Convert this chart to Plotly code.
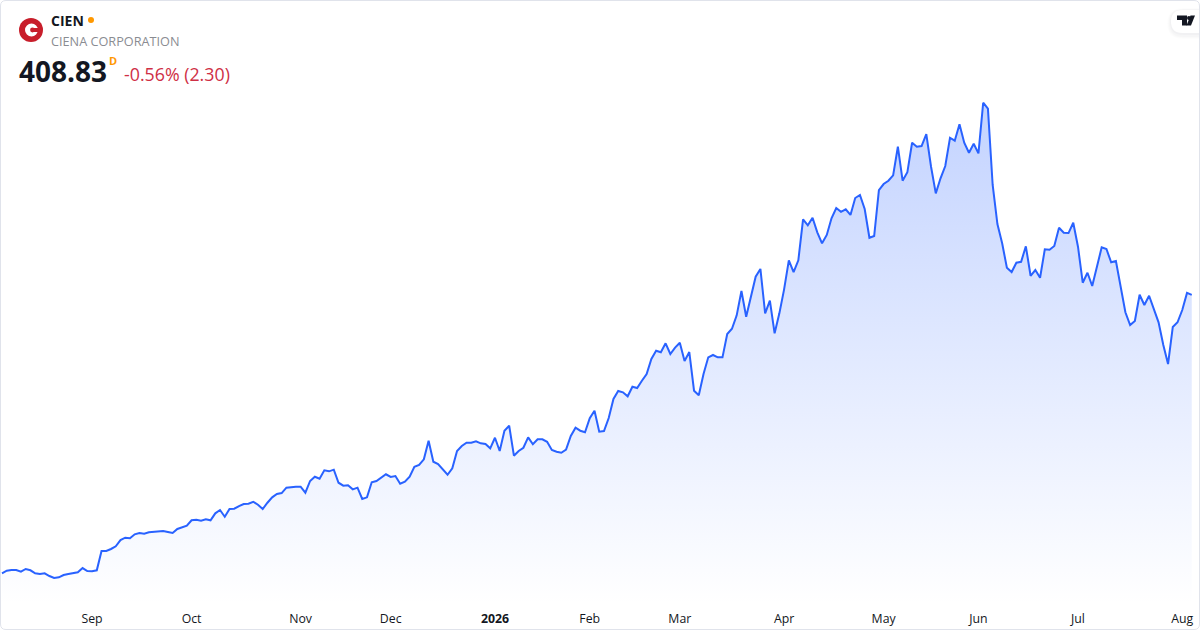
# plot.py
import pandas as pd
import plotly.graph_objects as go

# --- Data ---
FIRST_DAY = "2025-08-05"
LAST_DAY = "2026-08-05"
holidays = ["2025-09-01", "2025-11-27", "2025-12-25", "2026-01-01", "2026-01-19",
            "2026-02-16", "2026-04-03", "2026-05-25", "2026-06-19", "2026-07-03"]

close = [
    88.6, 91.6, 92.4, 92.4, 90.5, 93.6, 92.1, 88.6, 87.8, 88.6,
    85.5, 83.2, 84.0, 86.7, 87.8, 88.6, 89.8, 94.7, 91.3, 90.9,
    92.1, 114.3, 114.3, 116.6, 119.7, 126.9, 129.6, 128.9, 133.5, 135.0,
    134.2, 135.8, 136.1, 136.9, 137.3, 136.1, 135.0, 139.6, 141.9, 143.4,
    149.6, 150.3, 149.1, 150.8, 149.6, 157.6, 161.4, 153.7, 162.6, 162.9,
    166.0, 168.3, 168.7, 170.9, 167.5, 162.6, 169.8, 176.0, 179.8, 180.9,
    187.1, 187.9, 188.2, 188.2, 181.3, 194.8, 199.7, 197.4, 207.1, 205.9,
    207.8, 192.8, 189.4, 189.8, 185.2, 187.1, 174.1, 176.0, 193.3, 194.8,
    198.2, 202.5, 199.4, 200.5, 191.6, 193.9, 199.7, 211.2, 213.2, 219.7,
    241.1, 216.9, 214.3, 208.2, 202.0, 209.4, 229.3, 235.0, 238.8, 238.8,
    240.4, 238.1, 237.3, 232.4, 244.5, 229.3, 252.6, 258.3, 223.9, 229.3,
    233.0, 245.0, 237.0, 242.7, 242.7, 239.9, 230.4, 228.4, 227.3, 230.8,
    246.5, 256.0, 252.6, 250.8, 266.9, 275.6, 251.5, 252.3, 267.2, 289.1,
    298.3, 296.8, 292.2, 303.2, 301.7, 310.1, 317.8, 335.1, 344.6, 342.8,
    353.1, 340.8, 348.1, 353.8, 332.8, 343.1, 298.6, 293.3, 317.8, 337.0,
    339.7, 337.0, 337.0, 363.8, 369.9, 385.3, 413.3, 383.7, 408.7, 429.7,
    438.6, 387.6, 402.1, 364.6, 387.6, 415.2, 448.6, 435.1, 448.6, 495.7,
    488.8, 497.5, 480.8, 468.1, 477.7, 496.9, 508.7, 504.4, 507.2, 500.7,
    520.2, 523.7, 507.6, 474.5, 476.5, 529.4, 536.3, 540.1, 546.3, 579.2,
    540.1, 549.8, 583.8, 579.2, 580.0, 593.8, 556.2, 525.6, 542.9, 557.0,
    589.5, 586.1, 605.0, 583.8, 572.3, 582.6, 571.6, 629.8, 622.9, 535.2,
    490.3, 468.1, 440.0, 435.1, 445.8, 446.9, 464.7, 430.8, 437.4, 428.5,
    461.2, 460.7, 465.0, 486.0, 480.3, 479.9, 491.8, 464.2, 422.8, 434.3,
    419.0, 441.2, 463.5, 461.6, 446.3, 447.8, 418.2, 388.8, 374.2, 378.8,
    409.0, 397.2, 407.8, 392.2, 377.3, 351.2, 329.3, 371.9, 377.3, 391.4,
    411.13, 408.83,
]

tick_dates = ["2025-09-02", "2025-10-01", "2025-11-03", "2025-12-01", "2026-01-02", "2026-02-02",
              "2026-03-02", "2026-04-01", "2026-05-01", "2026-06-01", "2026-07-01", "2026-08-03"]
tick_labels = ["Sep", "Oct", "Nov", "Dec", "<b>2026</b>", "Feb", "Mar", "Apr", "May", "Jun", "Jul", "Aug"]

# --- Styling ---
WIDTH = 1200
HEIGHT = 630
BOTTOM = 26
FONT = "Open Sans"
BLUE = "#2962ff"
RED = "#c81e2b"
ORANGE = "#ff9800"
INK = "#131722"


def px(x):
    return x / WIDTH


def py(y):
    return 1 - y / (HEIGHT - BOTTOM)


def path(*points):
    """Build an svg path in paper coordinates from pixel points"""
    out = []
    for p in points:
        if isinstance(p, str):
            out.append(p)
        else:
            out.append(f"{px(p[0]):.5f} {py(p[1]):.5f}")
    return " ".join(out)


def circle(cx, cy, r, color):
    return dict(type="circle", xref="paper", yref="paper", x0=px(cx - r), x1=px(cx + r),
                y0=py(cy + r), y1=py(cy - r), fillcolor=color, line_width=0)


def label(x, y, text, size, color):
    return dict(xref="paper", yref="paper", x=px(x), y=py(y), text=text, showarrow=False,
                xanchor="left", yanchor="middle", align="left",
                font=dict(family=FONT, size=size, color=color))


def badge(left, top, bottom, color):
    mid = (top + bottom) / 2
    bend = left + (bottom - top) / 2
    return dict(type="path", xref="paper", yref="paper", fillcolor=color, line_width=0,
                path=path("M", (1200, top), "L", (bend, top), "Q", (left, top), (left, mid),
                          "Q", (left, bottom), (bend, bottom), "L", (1200, bottom), "Z"))


dates = pd.bdate_range(FIRST_DAY, LAST_DAY).strftime("%Y-%m-%d")
dates = [d for d in dates if d not in holidays]

# --- Figure ---
fig = go.Figure()
fig.add_trace(go.Scatter(
    x=dates, y=close, mode="lines",
    line=dict(color=BLUE, width=2),
    fill="tozeroy",
    fillgradient=dict(type="vertical", start=53.3, stop=max(close),
                      colorscale=[[0, "rgba(41,98,255,0)"], [1, "rgba(41,98,255,0.28)"]]),
    hoverinfo="skip",
))

shapes = [
    # logo
    circle(31, 30, 12, RED),
    circle(31.5, 30, 6.5, "white"),
    circle(32.5, 30, 2.4, RED),
    dict(type="rect", xref="paper", yref="paper", x0=px(33), x1=px(39), y0=py(32), y1=py(28),
         fillcolor=RED, line_width=0),
    circle(91, 20, 3, ORANGE),
    # tradingview badge, soft shadow first
    badge(1167, 8, 39, "rgba(19,23,34,0.008)"),
    badge(1168, 9, 38, "rgba(19,23,34,0.012)"),
    badge(1169, 9, 37, "rgba(19,23,34,0.016)"),
    badge(1170, 10, 35, "rgba(19,23,34,0.02)"),
    badge(1171, 10, 33, "white"),
    dict(type="path", xref="paper", yref="paper", fillcolor=INK, line_width=0,
         path=path("M", (1177, 15.5), "L", (1187, 15.5), "L", (1187, 25.5), "L", (1182, 25.5),
                   "L", (1182, 20), "L", (1177, 20), "Z")),
    circle(1188.9, 18, 1.9, INK),
    dict(type="path", xref="paper", yref="paper", fillcolor=INK, line_width=0,
         path=path("M", (1190.5, 15.5), "L", (1195, 15.5), "L", (1191, 25.5), "L", (1186.5, 25.5), "Z")),
    # outer frame
    dict(type="path", xref="paper", yref="paper", line=dict(color="#e0e3eb", width=1),
         path=path("M", (6, 0.5), "L", (1194, 0.5), "Q", (1199.5, 0.5), (1199.5, 6),
                   "L", (1199.5, 624), "Q", (1199.5, 629.5), (1194, 629.5),
                   "L", (6, 629.5), "Q", (0.5, 629.5), (0.5, 624),
                   "L", (0.5, 6), "Q", (0.5, 0.5), (6, 0.5), "Z")),
]

annotations = [
    label(49, 20.5, "<b>CIEN</b>", 14, INK),
    label(49, 41, "CIENA CORPORATION", 12.7, "#8a8c92"),
    label(17, 71.5, "<b>408.83</b>", 28, INK),
    label(107, 60.5, "<b>D</b>", 11, ORANGE),
    label(122, 74, "-0.56% (2.30)", 17.8, "#cf2f45"),
]

fig.update_layout(
    width=WIDTH, height=HEIGHT,
    margin=dict(l=0, r=0, t=0, b=BOTTOM),
    paper_bgcolor="white", plot_bgcolor="white",
    showlegend=False,
    shapes=shapes,
    annotations=annotations,
    font=dict(family=FONT, color=INK),
    xaxis=dict(type="category", range=[-0.42, 252.74], showgrid=False, zeroline=False,
               showline=False, tickmode="array", tickvals=tick_dates, ticktext=tick_labels,
               ticks="", ticklabelstandoff=6, tickfont=dict(family=FONT, size=12.3, color=INK)),
    yaxis=dict(range=[53.33, 747.93], visible=False),
)

# the page body has a default margin, drop it so the chart fills the window
fig.write_html("out.html", config=dict(displayModeBar=False),
               post_script="document.body.style.margin='0';")
